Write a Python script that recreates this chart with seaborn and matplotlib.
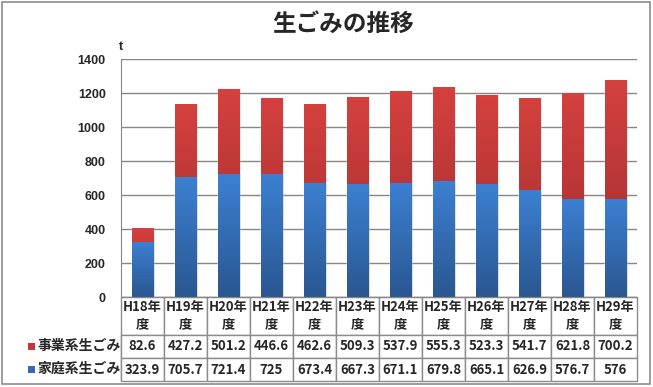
import numpy as np
import matplotlib
matplotlib.use('Agg')
import matplotlib.pyplot as plt
import seaborn as sns
from matplotlib.colors import LinearSegmentedColormap
from matplotlib.patches import Rectangle

# data
years = ['H18年\n度', 'H19年\n度', 'H20年\n度', 'H21年\n度', 'H22年\n度', 'H23年\n度',
         'H24年\n度', 'H25年\n度', 'H26年\n度', 'H27年\n度', 'H28年\n度', 'H29年\n度']
business = [82.6, 427.2, 501.2, 446.6, 462.6, 509.3, 537.9, 555.3, 523.3, 541.7, 621.8, 700.2]
household = [323.9, 705.7, 721.4, 725, 673.4, 667.3, 671.1, 679.8, 665.1, 626.9, 576.7, 576]
business_txt = ['82.6', '427.2', '501.2', '446.6', '462.6', '509.3', '537.9', '555.3', '523.3', '541.7', '621.8', '700.2']
household_txt = ['323.9', '705.7', '721.4', '725', '673.4', '667.3', '671.1', '679.8', '665.1', '626.9', '576.7', '576']
series_names = ['事業系生ごみ', '家庭系生ごみ']

sns.set_style('white')
plt.rcParams['font.family'] = ['Noto Sans CJK JP', 'DejaVu Sans']

red = '#c0393a'
blue = '#3569b0'
red_cmap = LinearSegmentedColormap.from_list('r', ['#9c2c2b', '#d4413f'])
blue_cmap = LinearSegmentedColormap.from_list('b', ['#2a5791', '#3c80d2'])

fig = plt.figure(figsize=(6.53, 3.87), dpi=100)
ax = fig.add_axes([121 / 653, 1 - 297 / 387, 516 / 653, 238 / 387])

totals = [b + h for b, h in zip(business, household)]
labels = [y.replace('\n', '') for y in years]
sns.barplot(x=labels, y=totals, color=red, width=0.5, ax=ax, saturation=1)
sns.barplot(x=labels, y=household, color=blue, width=0.5, ax=ax, saturation=1)

ax.set_xlim(-0.5, 11.5)
ax.set_ylim(0, 1400)

# gradient fill on each bar
grad = np.linspace(0, 1, 100).reshape(-1, 1)
patches = list(ax.patches)
for i, p in enumerate(patches):
    x0, y0 = p.get_x(), p.get_y()
    w, h = p.get_width(), p.get_height()
    cmap = red_cmap if i < len(totals) else blue_cmap
    # subtle shadow to the right
    ax.add_patch(Rectangle((x0 + 0.03, y0), w, h, color='#000000', alpha=0.10, zorder=1.5, lw=0))
    p.set_zorder(2)
    im = ax.imshow(grad, extent=[x0, x0 + w, y0, y0 + h], origin='lower',
                   aspect='auto', cmap=cmap, zorder=2.5)
    im.set_clip_path(p)
ax.set_xlim(-0.5, 11.5)
ax.set_ylim(0, 1400)

ax.set_yticks(range(0, 1401, 200))
ax.set_yticklabels([str(v) for v in range(0, 1401, 200)],
                   fontdict={'family': ['Liberation Sans'], 'weight': 'bold', 'size': 9})
ax.tick_params(axis='y', length=0, pad=11)
ax.set_xticks([])
ax.grid(axis='y', color='#868686', lw=1)
ax.set_axisbelow(True)
for s in ['top', 'right']:
    ax.spines[s].set_visible(False)
ax.spines['left'].set_color('#868686')
ax.spines['bottom'].set_color('#868686')
ax.set_xlabel('')
ax.set_ylabel('')

# data table under the plot (bbox covers the data columns only)
tbl = ax.table(cellText=[business_txt, household_txt],
               rowLabels=['', ''], colLabels=years, cellLoc='center',
               bbox=[0, -84 / 238, 1, 84 / 238])
tbl.auto_set_font_size(False)
for (r, c), cell in tbl.get_celld().items():
    cell.set_edgecolor('#8c8c8c')
    cell.set_linewidth(1)
    cell.set_width(97 if c == -1 else 43)
    cell.set_height(38 if r == 0 else 23)
    txt = cell.get_text()
    txt.set_fontweight('bold')
    txt.set_fontsize(9.5)
    txt.set_linespacing(1.3)

# legend keys inside the row label cells
for k, (col, yc) in enumerate([(red, 346), (blue, 369)]):
    fig.add_artist(Rectangle((28 / 653, 1 - (yc + 3.5) / 387), 7 / 653, 7 / 387,
                             transform=fig.transFigure, color=col, lw=0))
    fig.text(37 / 653, 1 - yc / 387, series_names[k], fontsize=10, fontweight='bold',
             va='center', ha='left')

# title and unit
fig.text(343 / 653, 1 - 24 / 387, '生ごみの推移', ha='center', va='center',
         fontsize=17, fontweight='bold')
fig.text(121 / 653, 1 - 47 / 387, 't', ha='center', va='center',
         fontsize=9, fontweight='bold', family=['Liberation Sans'])

# outer frame
fig.add_artist(Rectangle((2 / 653, 3 / 387), 648 / 653, 382 / 387, transform=fig.transFigure,
                         fill=False, edgecolor='#8c8c8c', lw=1.2))

fig.savefig('out.png', dpi=100)
